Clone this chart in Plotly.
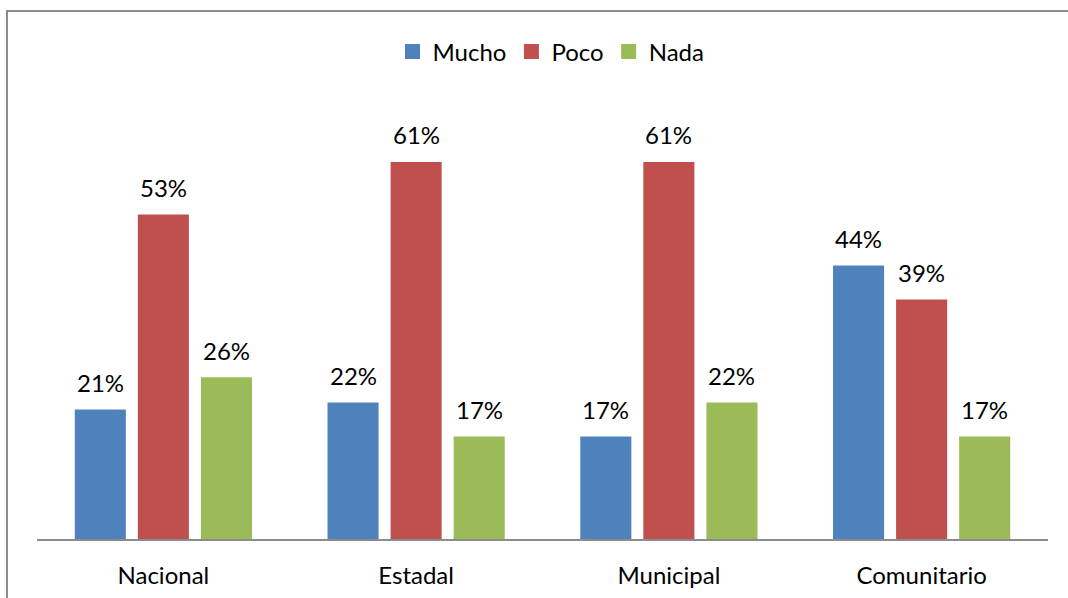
import plotly.graph_objects as go

categories = ["Nacional", "Estadal", "Municipal", "Comunitario"]
mucho = [21.0, 22.1, 16.6, 44.3]
poco = [52.6, 61.1, 61.1, 38.8]
nada = [26.2, 16.6, 22.1, 16.6]
series = [("Mucho", mucho, "#4F81BD"), ("Poco", poco, "#C0504D"), ("Nada", nada, "#9BBB59")]

FONT = "Lato, Liberation Sans, sans-serif"
FS = 24

W0, W1 = 37, 1048
T, B = 107, 539
H = B - T
GROUP_PX = (W1 - W0) / len(categories)
BARGAP = 0.2515
SLOT_PX = GROUP_PX * (1 - BARGAP) / len(series)

fig = go.Figure()
for i, (name, vals, color) in enumerate(series):
    fig.add_trace(go.Bar(
        x=categories, y=vals, name=name, marker_color=color,
        marker_line_width=0, showlegend=False,
    ))
    fig.add_trace(go.Scatter(
        x=[None], y=[None], mode="markers", name=name,
        marker=dict(symbol="square", size=15, color=color),
    ))
    for c, v in zip(categories, vals):
        fig.add_annotation(x=c, y=v, xref="x", yref="y", text=f"{round(v)}%",
                           showarrow=False, xshift=(i - 1) * SLOT_PX, yshift=27,
                           yanchor="middle", font=dict(size=FS, color="black", family=FONT))

fig.update_layout(
    width=1068, height=598,
    margin=dict(l=W0, r=1068 - W1, t=T, b=598 - B, autoexpand=False),
    paper_bgcolor="white", plot_bgcolor="white",
    barmode="group", bargap=BARGAP, bargroupgap=0.19,
    font=dict(family=FONT, size=FS, color="black"),
    legend=dict(orientation="h", x=(551 - W0) / (W1 - W0), xanchor="center",
                y=(B - 52) / H, yanchor="middle",
                font=dict(size=FS), itemwidth=30, traceorder="normal", itemclick=False),
    xaxis=dict(showline=True, linecolor="#8c8c8c", linewidth=2, ticks="outside", ticklen=14,
               tickcolor="rgba(0,0,0,0)", tickfont=dict(size=FS), showgrid=False, automargin=False),
    yaxis=dict(range=[0, 70], visible=False, showgrid=False, automargin=False),
    showlegend=True,
)
fig.add_shape(type="rect", xref="paper", yref="paper",
              x0=(7 - W0) / (W1 - W0), x1=1.1, y0=-0.5, y1=(B - 11) / H,
              line=dict(color="#8c8c8c", width=2), fillcolor="rgba(0,0,0,0)", layer="below")

fig.write_html("out.html", config={"displayModeBar": False},
               post_script="document.body.style.margin='0';")
